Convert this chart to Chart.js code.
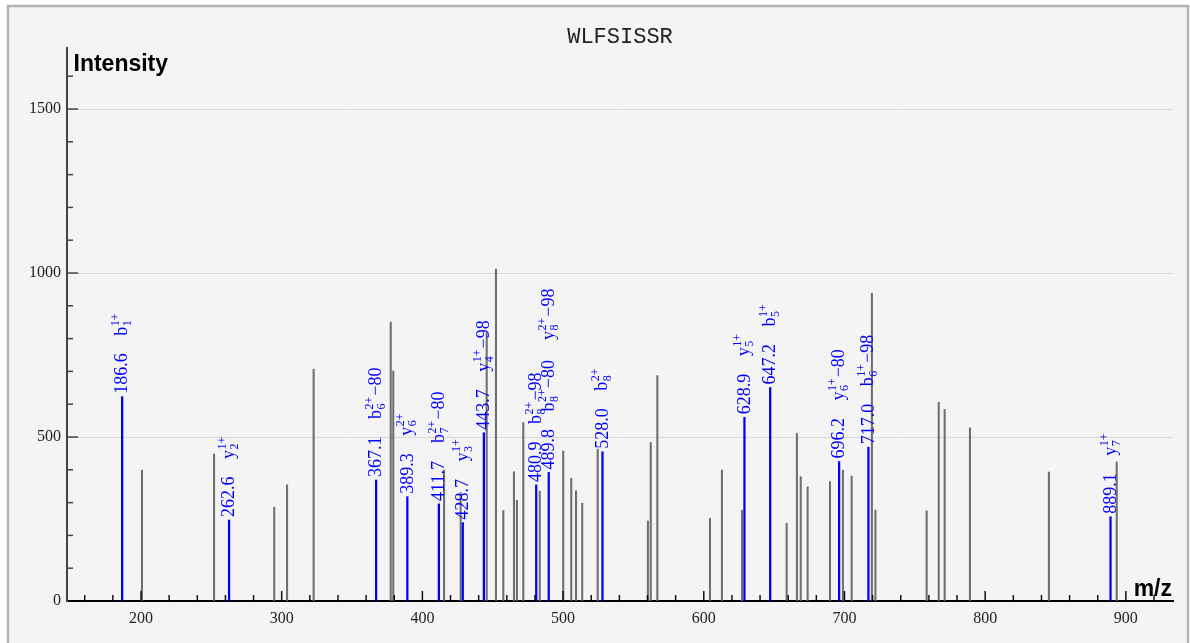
<!DOCTYPE html>
<html><head><meta charset="utf-8">
<script src="https://cdn.jsdelivr.net/npm/chart.js@4"></script>
<style>html,body{margin:0;padding:0;background:#fff;}#wrap{position:absolute;left:0;top:0;width:1190px;height:643px;}</style>
</head><body><div id="wrap"><canvas id="c" width="1190" height="643"></canvas></div>
<script>
const titleText = 'WLFSISSR';
const yAxisTitle = 'Intensity';
const xAxisTitle = 'm/z';
const yTickValues = [0, 500, 1000, 1500];
const xTickValues = [200, 300, 400, 500, 600, 700, 800, 900];
const xRange = [147.4, 933.5];
const yRange = [0, 1686];

// unannotated peaks
const grayMz = [200.7, 251.9, 294.7, 303.8, 322.7, 377.5, 379.3, 415.4, 427.2, 445.7, 452.3, 457.5, 465.1, 467.2, 471.7, 483.4, 500.1, 505.8, 509.2, 513.6, 524.6, 560.3, 562.3, 567.0, 604.4, 612.9, 627.2, 658.9, 666.2, 668.9, 673.8, 689.7, 698.9, 705.1, 719.5, 722.0, 758.4, 767.0, 771.2, 789.2, 845.3, 893.5];
const grayIntensity = [399, 448, 286, 354, 707, 850, 701, 399, 330, 817, 1012, 276, 394, 307, 544, 335, 457, 374, 336, 298, 463, 244, 483, 687, 252, 399, 277, 237, 511, 379, 348, 364, 399, 381, 938, 277, 275, 606, 584, 528, 393, 424];

// annotated peaks
const blueMz = [186.6, 262.6, 367.1, 389.3, 411.7, 428.7, 443.7, 480.9, 489.8, 528.0, 628.9, 647.2, 696.2, 717.0, 889.1];
const blueIntensity = [623, 247, 369, 318, 296, 239, 513, 354, 392, 455, 560, 651, 425, 469, 257];
const blueMzLabels = ['186.6', '262.6', '367.1', '389.3', '411.7', '428.7', '443.7', '480.9', '489.8', '528.0', '628.9', '647.2', '696.2', '717.0', '889.1'];
const blueIonLabels = ['b_1^1+', 'y_2^1+', 'b_6^2+−80', 'y_6^2+', 'b_7^2+−80', 'y_3^1+', 'y_4^1+−98', 'b_8^2+−98', 'b_8^2+−80;y_8^2+−98', 'b_8^2+', 'y_5^1+', 'b_5^1+', 'y_6^1+−80', 'b_6^1+−98', 'y_7^1+'];

const SERIF = '"Liberation Serif", "Times New Roman", serif';

function drawIon(ctx, lab, x0) {
  const m = lab.match(/^([a-z])_(\d+)\^(\d\+)(.*)$/);
  const base = 5;
  ctx.textBaseline = 'alphabetic';
  ctx.textAlign = 'left';
  ctx.font = '18px ' + SERIF;
  ctx.fillText(m[1], x0, base);
  let x = x0 + ctx.measureText(m[1]).width + 0.5;
  ctx.font = '12px ' + SERIF;
  ctx.fillText(m[2], x, base + 4);
  ctx.fillText(m[3], x, base - 8);
  x += Math.max(ctx.measureText(m[2]).width, ctx.measureText(m[3]).width) + 1;
  if (m[4]) {
    ctx.font = '18px ' + SERIF;
    ctx.fillText(m[4], x, base);
    x += ctx.measureText(m[4]).width;
  }
  return x - x0;
}

const framePlugin = {
  id: 'frame',
  beforeDraw(chart) {
    const ctx = chart.ctx;
    ctx.save();
    ctx.fillStyle = '#ffffff';
    ctx.fillRect(0, 0, chart.width, chart.height);
    ctx.fillStyle = '#f4f4f4';
    ctx.fillRect(8, 6, 1180, 700);
    ctx.strokeStyle = '#b2b2b2';
    ctx.lineWidth = 2.5;
    ctx.strokeRect(8, 6, 1180, 700);
    ctx.restore();
  },
  afterDraw(chart) {
    const ctx = chart.ctx, xs = chart.scales.x, ys = chart.scales.y, a = chart.chartArea;
    ctx.save();
    // inner ticks
    ctx.strokeStyle = '#444';
    ctx.lineWidth = 1.5;
    for (let v = 100; v <= 1600; v += 100) {
      const py = ys.getPixelForValue(v);
      const len = v % 500 === 0 ? 11 : 6;
      ctx.beginPath(); ctx.moveTo(a.left, py); ctx.lineTo(a.left + len, py); ctx.stroke();
    }
    ctx.strokeStyle = '#111';
    for (let v = 160; v <= 920; v += 20) {
      const px = xs.getPixelForValue(v);
      const len = v % 100 === 0 ? 10 : 6;
      ctx.beginPath(); ctx.moveTo(px, a.bottom); ctx.lineTo(px, a.bottom - len); ctx.stroke();
    }
    // title
    ctx.fillStyle = '#222';
    ctx.font = '22px "Liberation Mono", monospace';
    ctx.textAlign = 'center';
    ctx.textBaseline = 'middle';
    ctx.fillText(titleText, (a.left + a.right) / 2, 37);
    // axis titles
    ctx.fillStyle = '#000';
    ctx.font = 'bold 23px "Liberation Sans", Arial, sans-serif';
    ctx.textAlign = 'left';
    ctx.textBaseline = 'alphabetic';
    ctx.fillText(yAxisTitle, a.left + 6.5, a.top + 22.7);
    ctx.textAlign = 'right';
    ctx.fillText(xAxisTitle, a.right - 1, a.bottom - 5);
    ctx.restore();
  }
};

const labelPlugin = {
  id: 'peakLabels',
  afterDatasetsDraw(chart) {
    const ctx = chart.ctx, xs = chart.scales.x, ys = chart.scales.y;
    ctx.save();
    ctx.fillStyle = '#0000ff';
    blueMz.forEach((mz, i) => {
      const px = xs.getPixelForValue(mz), py = ys.getPixelForValue(blueIntensity[i]);
      ctx.save();
      ctx.translate(px, py);
      ctx.rotate(-Math.PI / 2);
      ctx.font = '18px ' + SERIF;
      ctx.textBaseline = 'middle';
      ctx.textAlign = 'left';
      ctx.fillText(blueMzLabels[i], 3, 0.5);
      let start = 61;
      blueIonLabels[i].split(';').forEach(lab => {
        const w = drawIon(ctx, lab, start);
        start += w + 20;
      });
      ctx.restore();
    });
    ctx.restore();
  }
};

new Chart(document.getElementById('c'), {
  type: 'bar',
  data: {
    datasets: [
      {
        label: 'peaks',
        data: grayMz.map((m, i) => ({ x: m, y: grayIntensity[i] })),
        backgroundColor: '#6e6e6e',
        barThickness: 1.4,
        grouped: false,
        order: 2
      },
      {
        label: 'annotated',
        data: blueMz.map((m, i) => ({ x: m, y: blueIntensity[i] })),
        backgroundColor: '#0000ff',
        barThickness: 1.6,
        grouped: false,
        order: 1
      }
    ]
  },
  options: {
    responsive: false,
    animation: false,
    layout: { padding: { left: 10, right: 17, top: 48, bottom: 10 } },
    plugins: { legend: { display: false }, tooltip: { enabled: false }, title: { display: false } },
    scales: {
      x: {
        type: 'linear',
        min: xRange[0], max: xRange[1],
        offset: false,
        grid: { display: false, drawTicks: false },
        border: { display: true, color: '#000', width: 2 },
        afterBuildTicks: s => { s.ticks = xTickValues.map(v => ({ value: v })); },
        afterFit: s => { s.height = 32; },
        ticks: { font: { family: SERIF, size: 16 }, color: '#222', padding: 8, maxRotation: 0, autoSkip: false, callback: v => String(v) }
      },
      y: {
        type: 'linear',
        min: yRange[0], max: yRange[1],
        grid: { display: true, drawTicks: false, color: ctx => ctx.tick && ctx.tick.value === 0 ? 'rgba(0,0,0,0)' : '#d9d9d9', lineWidth: 1 },
        border: { display: true, color: '#444', width: 2 },
        afterBuildTicks: s => { s.ticks = yTickValues.map(v => ({ value: v })); },
        afterFit: s => { s.width = 57; },
        ticks: { font: { family: SERIF, size: 16 }, color: '#222', padding: 6, autoSkip: false, callback: v => String(v) }
      }
    }
  },
  plugins: [framePlugin, labelPlugin]
});
</script></body></html>
